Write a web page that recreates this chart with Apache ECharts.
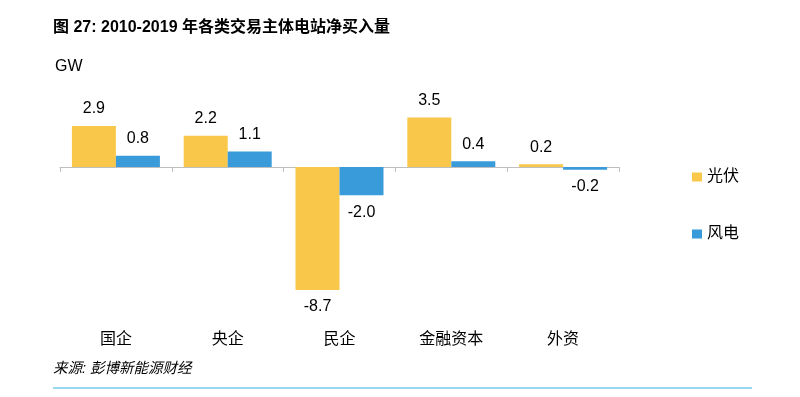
<!DOCTYPE html>
<html>
<head>
<meta charset="utf-8">
<script src="https://cdn.jsdelivr.net/npm/echarts@6/dist/echarts.min.js"></script>
<style>html,body{margin:0;padding:0;background:#fff;}#c{width:800px;height:397px;}</style>
</head>
<body>
<div id="c"></div>
<script>
const categories = ['国企', '央企', '民企', '金融资本', '外资'];
const solar = [2.9, 2.2, -8.7, 3.5, 0.2];
const wind = [0.8, 1.1, -2.0, 0.4, -0.2];
const seriesNames = ['光伏', '风电'];
const titleText = '图 27: 2010-2019 年各类交易主体电站净买入量';
const unitText = 'GW';
const sourceText = '来源: 彭博新能源财经';

const FONT = '"Liberation Sans", "Noto Sans CJK SC", sans-serif';
const colors = ['#F9C84A', '#3A9BDB'];

function toData(arr) {
  return arr.map(v => ({
    value: v,
    label: { position: v >= 0 ? 'top' : 'bottom' }
  }));
}

const chart = echarts.init(document.getElementById('c'), null, { renderer: 'canvas' });
chart.setOption({
  animation: false,
  backgroundColor: '#fff',
  title: {
    text: titleText,
    left: 53, top: 20, padding: 0,
    textStyle: { fontFamily: FONT, fontSize: 16, fontWeight: 'bold', color: '#000' }
  },
  legend: {
    orient: 'vertical',
    left: 692, top: 169, padding: 0,
    itemGap: 41,
    itemWidth: 10, itemHeight: 9,
    icon: 'rect',
    data: seriesNames,
    textStyle: { fontFamily: FONT, fontSize: 16, color: '#000' }
  },
  grid: { left: 60, right: 181, top: 110.4, bottom: 102.7, containLabel: false, outerBoundsMode: 'none' },
  xAxis: [
    {
      type: 'category',
      data: categories,
      axisLine: { onZero: true, lineStyle: { color: '#BFBFBF', width: 1 } },
      axisTick: { show: true, length: 5, lineStyle: { color: '#BFBFBF' } },
      axisLabel: { show: false }
    },
    {
      type: 'category',
      data: categories,
      position: 'bottom',
      axisLine: { show: false, onZero: false },
      axisTick: { show: false },
      axisLabel: { show: true, margin: 37, fontFamily: FONT, fontSize: 16, color: '#000' }
    }
  ],
  yAxis: {
    type: 'value',
    min: -9, max: 4,
    show: false,
    splitLine: { show: false }
  },
  series: [
    {
      name: seriesNames[0], type: 'bar', data: toData(solar), xAxisIndex: 0,
      barWidth: 44, barGap: '0%',
      itemStyle: { color: colors[0] },
      label: { show: true, distance: 9, fontFamily: FONT, fontSize: 16, color: '#000',
               formatter: p => p.value.toFixed(1) }
    },
    {
      name: seriesNames[1], type: 'bar', data: toData(wind), xAxisIndex: 0,
      barWidth: 44, barGap: '0%',
      itemStyle: { color: colors[1] },
      label: { show: true, distance: 9, fontFamily: FONT, fontSize: 16, color: '#000',
               formatter: p => p.value.toFixed(1) }
    }
  ],
  graphic: [
    { type: 'text', left: 55, top: 59,
      style: { text: unitText, font: '16px ' + FONT, fill: '#000' } },
    { type: 'text', left: 53, top: 362,
      style: { text: sourceText, font: 'italic 14.5px ' + FONT, fill: '#000' } },
    { type: 'rect', shape: { x: 53, y: 387, width: 699, height: 2 },
      style: { fill: '#9AD8F2' } }
  ]
});
</script>
</body>
</html>
